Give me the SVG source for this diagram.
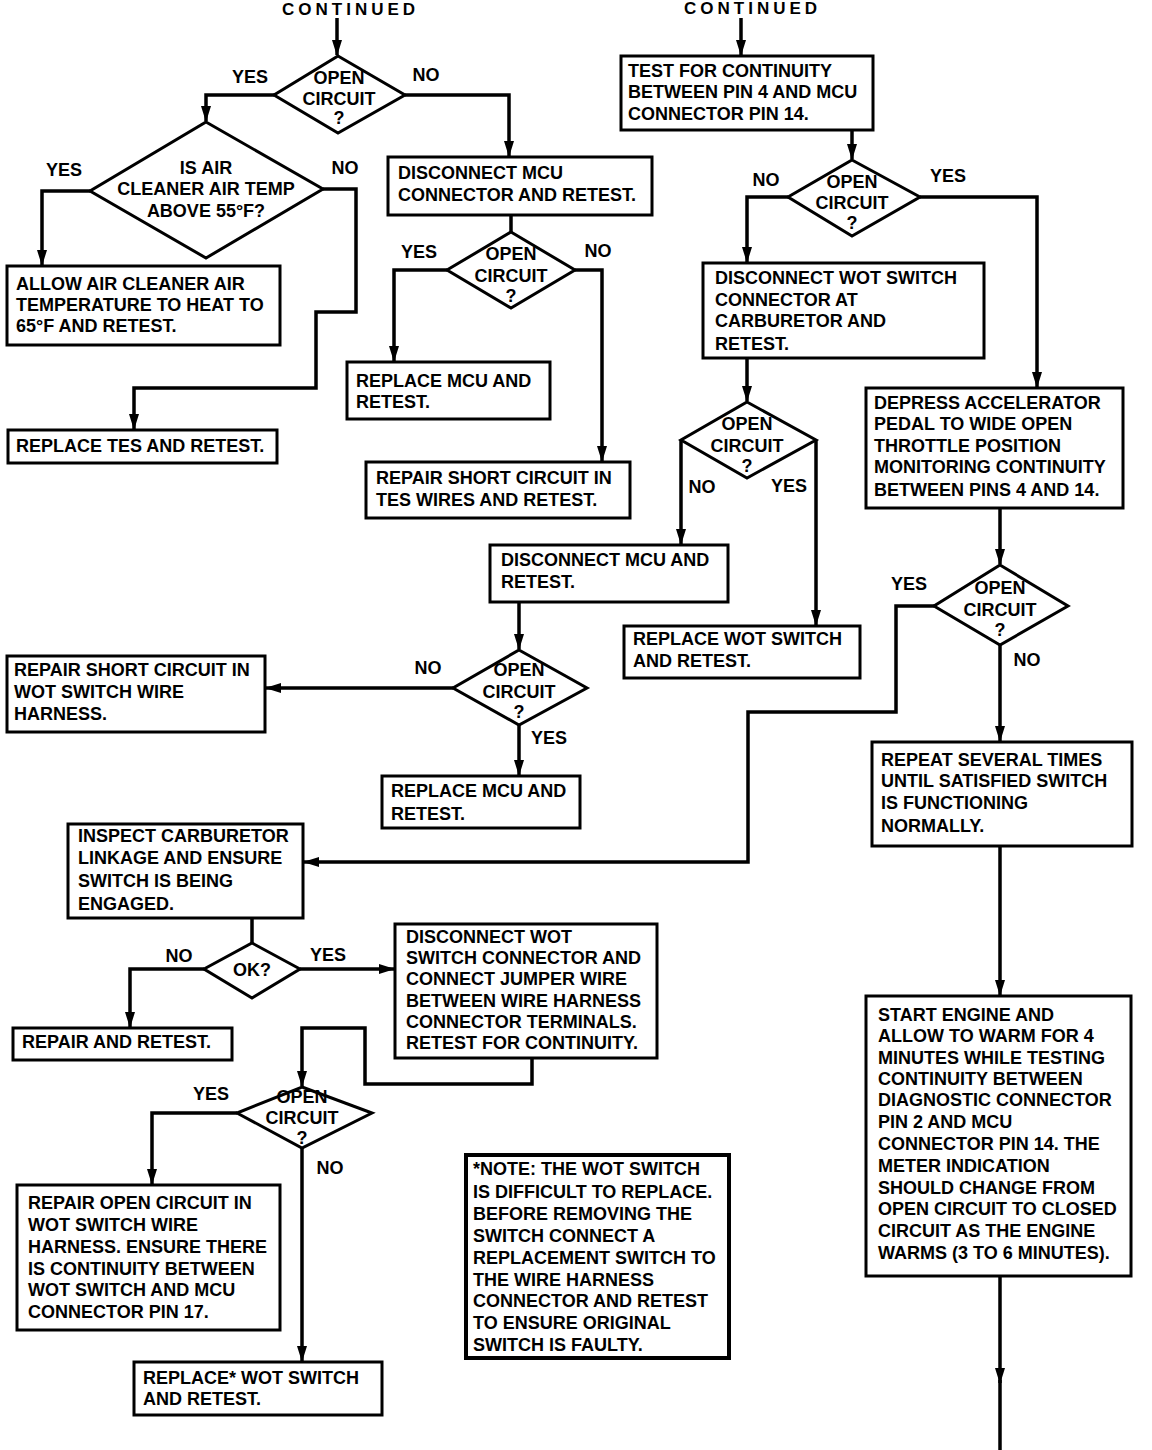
<svg xmlns="http://www.w3.org/2000/svg" width="1152" height="1450" viewBox="0 0 1152 1450">
<style>
.box{fill:#fff;stroke:#000;stroke-width:3}
.note{fill:#fff;stroke:#000;stroke-width:4}
.t{font-family:"Liberation Sans",Arial,sans-serif;font-weight:bold;font-size:18px;fill:#000}
.c{text-anchor:middle}
.hd{font-family:"Liberation Sans",Arial,sans-serif;font-weight:bold;font-size:17px;letter-spacing:4px;fill:#000}
.conn{fill:none;stroke:#000;stroke-width:3.5;stroke-linejoin:miter}
</style>
<defs>
<marker id="ah" viewBox="0 0 16 10" refX="15" refY="5" markerWidth="16" markerHeight="10" markerUnits="userSpaceOnUse" orient="auto"><path d="M0,0 L16,5 L0,10 z" fill="#000"/></marker>
</defs>
<rect width="1152" height="1450" fill="#fff"/>

<g id="headers">
<text class="hd" x="282" y="15">CONTINUED</text>
<text class="hd" x="684" y="14">CONTINUED</text>
</g>

<g id="connectors">
<path class="conn" d="M337,18 V55" marker-end="url(#ah)"/>
<path class="conn" d="M274,95 H206 V121" marker-end="url(#ah)"/>
<path class="conn" d="M405,95 H509 V156" marker-end="url(#ah)"/>
<path class="conn" d="M90,191 H42 V265" marker-end="url(#ah)"/>
<path class="conn" d="M323,189 H356 V312 H316 V388 H134 V429" marker-end="url(#ah)"/>
<path class="conn" d="M511,215 V232"/>
<path class="conn" d="M447,270 H394 V361" marker-end="url(#ah)"/>
<path class="conn" d="M575,270 H602 V461" marker-end="url(#ah)"/>
<path class="conn" d="M741,18 V55" marker-end="url(#ah)"/>
<path class="conn" d="M852,130 V159" marker-end="url(#ah)"/>
<path class="conn" d="M788,197 H747 V262" marker-end="url(#ah)"/>
<path class="conn" d="M920,197 H1037 V387" marker-end="url(#ah)"/>
<path class="conn" d="M747,358 V401" marker-end="url(#ah)"/>
<path class="conn" d="M681,440 V544" marker-end="url(#ah)"/>
<path class="conn" d="M816,440 V625" marker-end="url(#ah)"/>
<path class="conn" d="M519,602 V649" marker-end="url(#ah)"/>
<path class="conn" d="M453,688 H266" marker-end="url(#ah)"/>
<path class="conn" d="M519,725 V775" marker-end="url(#ah)"/>
<path class="conn" d="M1000,508 V564" marker-end="url(#ah)"/>
<path class="conn" d="M1000,645 V741" marker-end="url(#ah)"/>
<path class="conn" d="M934,606 H896 V712 H748 V862 H304" marker-end="url(#ah)"/>
<path class="conn" d="M1000,846 V995" marker-end="url(#ah)"/>
<path class="conn" d="M1000,1276 V1383" marker-end="url(#ah)"/>
<path class="conn" d="M1000,1380 V1450"/>
<path class="conn" d="M252,918 V943"/>
<path class="conn" d="M204,969 H130 V1027" marker-end="url(#ah)"/>
<path class="conn" d="M300,969 H394" marker-end="url(#ah)"/>
<path class="conn" d="M532,1058 V1084 H365 V1028 H302 V1086" marker-end="url(#ah)"/>
<path class="conn" d="M237,1113 H152 V1184" marker-end="url(#ah)"/>
<path class="conn" d="M302,1148 V1361" marker-end="url(#ah)"/>
</g>

<g id="labels">
<text class="t c" x="250" y="83">YES</text>
<text class="t c" x="426" y="81">NO</text>
<text class="t c" x="64" y="176">YES</text>
<text class="t c" x="345" y="174">NO</text>
<text class="t c" x="419" y="258">YES</text>
<text class="t c" x="598" y="257">NO</text>
<text class="t c" x="766" y="186">NO</text>
<text class="t c" x="948" y="182">YES</text>
<text class="t c" x="702" y="493">NO</text>
<text class="t c" x="789" y="492">YES</text>
<text class="t c" x="909" y="590">YES</text>
<text class="t c" x="1027" y="666">NO</text>
<text class="t c" x="428" y="674">NO</text>
<text class="t c" x="549" y="744">YES</text>
<text class="t c" x="179" y="962">NO</text>
<text class="t c" x="328" y="961">YES</text>
<text class="t c" x="211" y="1100">YES</text>
<text class="t c" x="330" y="1174">NO</text>
</g>

<g id="d1">
<polygon class="box" points="338,56 405,95 338,133 274,95"/>
<text class="t c" x="339" y="84">OPEN</text>
<text class="t c" x="339" y="105">CIRCUIT</text>
<text class="t c" x="339" y="124">?</text>
</g>
<g id="d2">
<polygon class="box" points="206,122 323,189 206,258 90,191"/>
<text class="t c" x="206" y="174">IS AIR</text>
<text class="t c" x="206" y="195">CLEANER AIR TEMP</text>
<text class="t c" x="206" y="217">ABOVE 55°F?</text>
</g>
<g id="allow">
<rect class="box" x="7" y="266" width="273" height="79"/>
<text class="t" x="16" y="290">ALLOW AIR CLEANER AIR</text>
<text class="t" x="16" y="311">TEMPERATURE TO HEAT TO</text>
<text class="t" x="16" y="332">65°F AND RETEST.</text>
</g>
<g id="tes">
<rect class="box" x="8" y="430" width="269" height="33"/>
<text class="t" x="16" y="452">REPLACE TES AND RETEST.</text>
</g>
<g id="discmcu">
<rect class="box" x="388" y="157" width="264" height="58"/>
<text class="t" x="398" y="179">DISCONNECT MCU</text>
<text class="t" x="398" y="201">CONNECTOR AND RETEST.</text>
</g>
<g id="d3">
<polygon class="box" points="511,232 575,270 511,308 447,270"/>
<text class="t c" x="511" y="260">OPEN</text>
<text class="t c" x="511" y="282">CIRCUIT</text>
<text class="t c" x="511" y="302">?</text>
</g>
<g id="replmcu1">
<rect class="box" x="347" y="362" width="203" height="57"/>
<text class="t" x="356" y="387">REPLACE MCU AND</text>
<text class="t" x="356" y="408">RETEST.</text>
</g>
<g id="reptes">
<rect class="box" x="366" y="462" width="264" height="56"/>
<text class="t" x="376" y="484">REPAIR SHORT CIRCUIT IN</text>
<text class="t" x="376" y="506">TES WIRES AND RETEST.</text>
</g>
<g id="test">
<rect class="box" x="621" y="56" width="252" height="74"/>
<text class="t" x="628" y="77">TEST FOR CONTINUITY</text>
<text class="t" x="628" y="98">BETWEEN PIN 4 AND MCU</text>
<text class="t" x="628" y="120">CONNECTOR PIN 14.</text>
</g>
<g id="d4">
<polygon class="box" points="852,160 920,197 852,236 788,197"/>
<text class="t c" x="852" y="188">OPEN</text>
<text class="t c" x="852" y="209">CIRCUIT</text>
<text class="t c" x="852" y="229">?</text>
</g>
<g id="discwot">
<rect class="box" x="703" y="263" width="281" height="95"/>
<text class="t" x="715" y="284">DISCONNECT WOT SWITCH</text>
<text class="t" x="715" y="306">CONNECTOR AT</text>
<text class="t" x="715" y="327">CARBURETOR AND</text>
<text class="t" x="715" y="350">RETEST.</text>
</g>
<g id="d5">
<polygon class="box" points="747,402 816,440 747,478 681,440"/>
<text class="t c" x="747" y="430">OPEN</text>
<text class="t c" x="747" y="452">CIRCUIT</text>
<text class="t c" x="747" y="472">?</text>
</g>
<g id="depress">
<rect class="box" x="866" y="388" width="257" height="120"/>
<text class="t" x="874" y="409">DEPRESS ACCELERATOR</text>
<text class="t" x="874" y="430">PEDAL TO WIDE OPEN</text>
<text class="t" x="874" y="452">THROTTLE POSITION</text>
<text class="t" x="874" y="473">MONITORING CONTINUITY</text>
<text class="t" x="874" y="496">BETWEEN PINS 4 AND 14.</text>
</g>
<g id="discmcu2">
<rect class="box" x="490" y="545" width="238" height="57"/>
<text class="t" x="501" y="566">DISCONNECT MCU AND</text>
<text class="t" x="501" y="588">RETEST.</text>
</g>
<g id="replwot">
<rect class="box" x="624" y="626" width="236" height="52"/>
<text class="t" x="633" y="645">REPLACE WOT SWITCH</text>
<text class="t" x="633" y="667">AND RETEST.</text>
</g>
<g id="d7">
<polygon class="box" points="1000,565 1068,606 1000,645 934,606"/>
<text class="t c" x="1000" y="594">OPEN</text>
<text class="t c" x="1000" y="616">CIRCUIT</text>
<text class="t c" x="1000" y="636">?</text>
</g>
<g id="repwot">
<rect class="box" x="7" y="656" width="258" height="76"/>
<text class="t" x="14" y="676">REPAIR SHORT CIRCUIT IN</text>
<text class="t" x="14" y="698">WOT SWITCH WIRE</text>
<text class="t" x="14" y="720">HARNESS.</text>
</g>
<g id="d6">
<polygon class="box" points="519,650 587,688 519,725 453,688"/>
<text class="t c" x="519" y="676">OPEN</text>
<text class="t c" x="519" y="698">CIRCUIT</text>
<text class="t c" x="519" y="718">?</text>
</g>
<g id="replmcu2">
<rect class="box" x="382" y="776" width="198" height="52"/>
<text class="t" x="391" y="797">REPLACE MCU AND</text>
<text class="t" x="391" y="820">RETEST.</text>
</g>
<g id="repeat">
<rect class="box" x="872" y="742" width="260" height="104"/>
<text class="t" x="881" y="766">REPEAT SEVERAL TIMES</text>
<text class="t" x="881" y="787">UNTIL SATISFIED SWITCH</text>
<text class="t" x="881" y="809">IS FUNCTIONING</text>
<text class="t" x="881" y="832">NORMALLY.</text>
</g>
<g id="start">
<rect class="box" x="866" y="996" width="265" height="280"/>
<text class="t" x="878" y="1021">START ENGINE AND</text>
<text class="t" x="878" y="1042">ALLOW TO WARM FOR 4</text>
<text class="t" x="878" y="1064">MINUTES WHILE TESTING</text>
<text class="t" x="878" y="1085">CONTINUITY BETWEEN</text>
<text class="t" x="878" y="1106">DIAGNOSTIC CONNECTOR</text>
<text class="t" x="878" y="1128">PIN 2 AND MCU</text>
<text class="t" x="878" y="1150">CONNECTOR PIN 14. THE</text>
<text class="t" x="878" y="1172">METER INDICATION</text>
<text class="t" x="878" y="1194">SHOULD CHANGE FROM</text>
<text class="t" x="878" y="1215">OPEN CIRCUIT TO CLOSED</text>
<text class="t" x="878" y="1237">CIRCUIT AS THE ENGINE</text>
<text class="t" x="878" y="1259">WARMS (3 TO 6 MINUTES).</text>
</g>
<g id="inspect">
<rect class="box" x="68" y="824" width="235" height="94"/>
<text class="t" x="78" y="842">INSPECT CARBURETOR</text>
<text class="t" x="78" y="864">LINKAGE AND ENSURE</text>
<text class="t" x="78" y="887">SWITCH IS BEING</text>
<text class="t" x="78" y="910">ENGAGED.</text>
</g>
<g id="dok">
<polygon class="box" points="252,943 300,969 252,998 204,969"/>
<text class="t c" x="252" y="976">OK?</text>
</g>
<g id="discwot2">
<rect class="box" x="395" y="924" width="262" height="134"/>
<text class="t" x="406" y="943">DISCONNECT WOT</text>
<text class="t" x="406" y="964">SWITCH CONNECTOR AND</text>
<text class="t" x="406" y="985">CONNECT JUMPER WIRE</text>
<text class="t" x="406" y="1007">BETWEEN WIRE HARNESS</text>
<text class="t" x="406" y="1028">CONNECTOR TERMINALS.</text>
<text class="t" x="406" y="1049">RETEST FOR CONTINUITY.</text>
</g>
<g id="repair">
<rect class="box" x="13" y="1028" width="219" height="32"/>
<text class="t" x="22" y="1048">REPAIR AND RETEST.</text>
</g>
<g id="d8">
<polygon class="box" points="302,1087 372,1113 302,1148 237,1113"/>
<text class="t c" x="302" y="1103">OPEN</text>
<text class="t c" x="302" y="1124">CIRCUIT</text>
<text class="t c" x="302" y="1144">?</text>
</g>
<g id="repopen">
<rect class="box" x="17" y="1185" width="263" height="145"/>
<text class="t" x="28" y="1209">REPAIR OPEN CIRCUIT IN</text>
<text class="t" x="28" y="1231">WOT SWITCH WIRE</text>
<text class="t" x="28" y="1253">HARNESS. ENSURE THERE</text>
<text class="t" x="28" y="1275">IS CONTINUITY BETWEEN</text>
<text class="t" x="28" y="1296">WOT SWITCH AND MCU</text>
<text class="t" x="28" y="1318">CONNECTOR PIN 17.</text>
</g>
<g id="replwot2">
<rect class="box" x="134" y="1362" width="248" height="53"/>
<text class="t" x="143" y="1384">REPLACE* WOT SWITCH</text>
<text class="t" x="143" y="1405">AND RETEST.</text>
</g>
<g id="notebox">
<rect class="note" x="466" y="1155" width="263" height="203"/>
<text class="t" x="473" y="1175">*NOTE: THE WOT SWITCH</text>
<text class="t" x="473" y="1198">IS DIFFICULT TO REPLACE.</text>
<text class="t" x="473" y="1220">BEFORE REMOVING THE</text>
<text class="t" x="473" y="1242">SWITCH CONNECT A</text>
<text class="t" x="473" y="1264">REPLACEMENT SWITCH TO</text>
<text class="t" x="473" y="1286">THE WIRE HARNESS</text>
<text class="t" x="473" y="1307">CONNECTOR AND RETEST</text>
<text class="t" x="473" y="1329">TO ENSURE ORIGINAL</text>
<text class="t" x="473" y="1351">SWITCH IS FAULTY.</text>
</g>
</svg>
